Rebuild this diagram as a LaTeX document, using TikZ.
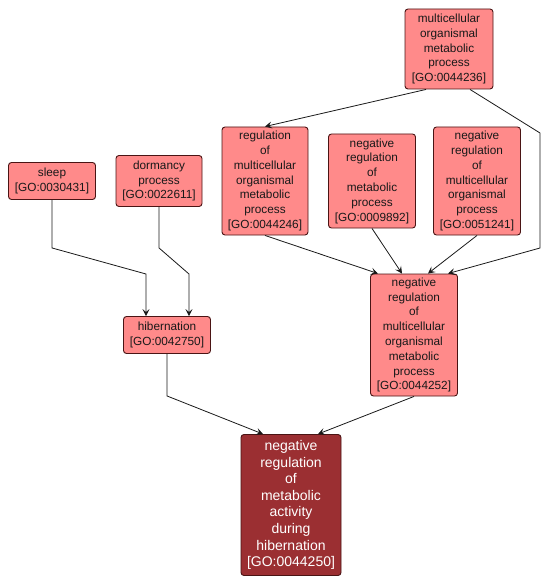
\documentclass[tikz,border=0pt]{standalone}
\usepackage{fontspec}
\setmainfont{Liberation Sans}
\usetikzlibrary{arrows.meta, calc}
\definecolor{salmon}{HTML}{FF8A8A}
\definecolor{wine}{HTML}{9B2F32}
\definecolor{rim}{HTML}{4A1414}

\begin{document}
\begin{tikzpicture}[x=1pt, y=-1pt,
term/.style = {rectangle, rounded corners=3pt, draw=rim, fill=salmon, line width=0.9pt,
  align=center, inner sep=1pt, text=black!90, font=\fontsize{11.8}{14.8}\selectfont},
goal/.style = {% the term in question
  term, fill=wine, text=white, font=\fontsize{14}{16.6}\selectfont},
link/.style = {draw=black!90, line width=0.8pt, -{Stealth[length=7pt,width=7pt,inset=3pt]}}]
\useasboundingbox (0,0) rectangle (551,588);
% upper terms
\node[term, minimum width=88, minimum height=80] (mome) at (449,49)
  {multicellular\\organismal\\metabolic\\process\\{[GO:0044236]}};
\node[term, minimum width=86, minimum height=108] (rmome) at (265,181)
  {regulation\\of\\multicellular\\organismal\\metabolic\\process\\{[GO:0044246]}};
\node[term, minimum width=87, minimum height=94] (nrme) at (372,181)
  {negative\\regulation\\of\\metabolic\\process\\{[GO:0009892]}};
\node[term, minimum width=87, minimum height=108] (nrmo) at (477,181)
  {negative\\regulation\\of\\multicellular\\organismal\\process\\{[GO:0051241]}};
\node[term, minimum width=87, minimum height=37] (sleep) at (52,181)
  {sleep\\{[GO:0030431]}};
\node[term, minimum width=86, minimum height=51] (dorm) at (159,181)
  {dormancy\\process\\{[GO:0022611]}};
% middle terms
\node[term, minimum width=87, minimum height=37] (hib) at (167,335)
  {hibernation\\{[GO:0042750]}};
\node[term, minimum width=87, minimum height=122] (nrmome) at (414,335)
  {negative\\regulation\\of\\multicellular\\organismal\\metabolic\\process\\{[GO:0044252]}};
% bottom term
\node[goal, minimum width=100, minimum height=141] (target) at (291,505)
  {negative\\regulation\\of\\metabolic\\activity\\during\\hibernation\\{[GO:0044250]}};
% is_a links
\draw[link] ($(mome.south)+(-23,0)$) -- (rmome.north);
\draw[link] ($(mome.south)+(21,0)$) -- (540,133) -- (540,248) -- ($(nrmome.north)+(34,0)$);
\draw[link] (rmome.south) -- ($(nrmome.north)+(-36,0)$);
\draw[link] (nrme.south) -- ($(nrmome.north)+(-12,0)$);
\draw[link] (nrmo.south) -- ($(nrmome.north)+(14,0)$);
\draw[link] (sleep.south) -- ++(0,48) -- (146,274) -- ($(hib.north)+(-21,0)$);
\draw[link] (dorm.south) -- ++(0,41) -- (189,274) -- ($(hib.north)+(22,0)$);
\draw[link] (hib.south) -- ++(0,42) -- ($(target.north)+(-28,0)$);
\draw[link] (nrmome.south) -- ($(target.north)+(27,0)$);
\end{tikzpicture}
\end{document}
